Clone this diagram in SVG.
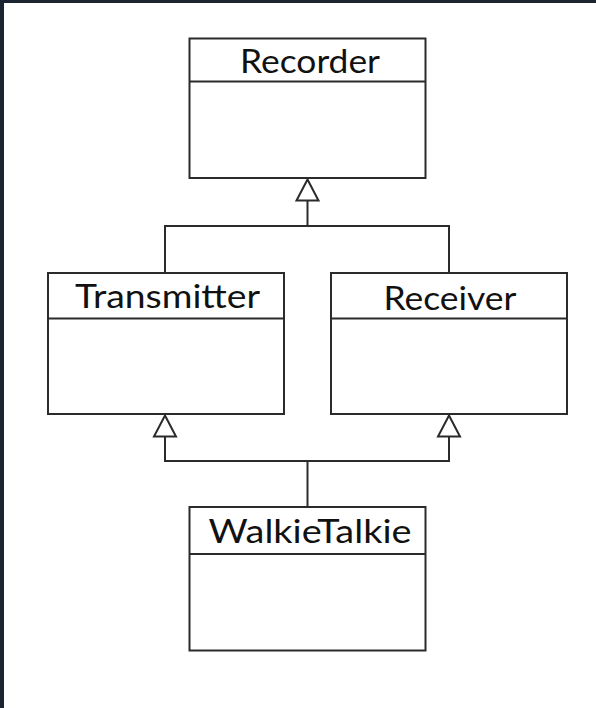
<svg xmlns="http://www.w3.org/2000/svg" width="596" height="708" viewBox="0 0 596 708">
<style>
.box{fill:#fff;stroke:#2b2b2b;stroke-width:2}
.div{stroke:#2b2b2b;stroke-width:2;fill:none}
.lbl{font-family:Lato,"Open Sans","Liberation Sans",sans-serif;font-size:32px;fill:#111;text-anchor:middle}
.edge{stroke:#2b2b2b;stroke-width:2;fill:none}
.head{fill:#fff;stroke:#2b2b2b;stroke-width:2;stroke-linejoin:miter}
</style>
<rect x="0" y="0" width="596" height="708" fill="#fff"/>
<rect x="0" y="0" width="596" height="3" fill="#1c2331"/>
<rect x="0" y="0" width="4" height="708" fill="#1c2331"/>
<g id="connectors">
<polyline class="edge" points="165,273 165,226 449,226 449,273"/>
<line class="edge" x1="307.5" y1="226" x2="307.5" y2="200.5"/>
<polygon class="head" points="307.5,179.5 296.5,200.5 318.5,200.5"/>
<polyline class="edge" points="165,437 165,461 449,461 449,437"/>
<line class="edge" x1="307.5" y1="461" x2="307.5" y2="507"/>
<polygon class="head" points="165,415.5 154,436.5 176,436.5"/>
<polygon class="head" points="449,415.5 438,436.5 460,436.5"/>
</g>
<g id="recorder">
<rect class="box" x="189.5" y="38.5" width="236" height="139.5"/>
<line class="div" x1="189.5" y1="81.5" x2="425.5" y2="81.5"/>
<text class="lbl" x="310" y="73" textLength="140" lengthAdjust="spacingAndGlyphs">Recorder</text>
</g>
<g id="transmitter">
<rect class="box" x="48" y="273" width="236" height="141"/>
<line class="div" x1="48" y1="318.5" x2="284" y2="318.5"/>
<text class="lbl" x="167.5" y="308" textLength="185" lengthAdjust="spacingAndGlyphs">Transmitter</text>
</g>
<g id="receiver">
<rect class="box" x="331" y="273" width="236" height="141"/>
<line class="div" x1="331" y1="318.5" x2="567" y2="318.5"/>
<text class="lbl" x="450" y="310" textLength="133" lengthAdjust="spacingAndGlyphs">Receiver</text>
</g>
<g id="walkietalkie">
<rect class="box" x="189.5" y="507" width="236" height="143.5"/>
<line class="div" x1="189.5" y1="554" x2="425.5" y2="554"/>
<text class="lbl" x="310" y="543" textLength="203" lengthAdjust="spacingAndGlyphs">WalkieTalkie</text>
</g>
</svg>
